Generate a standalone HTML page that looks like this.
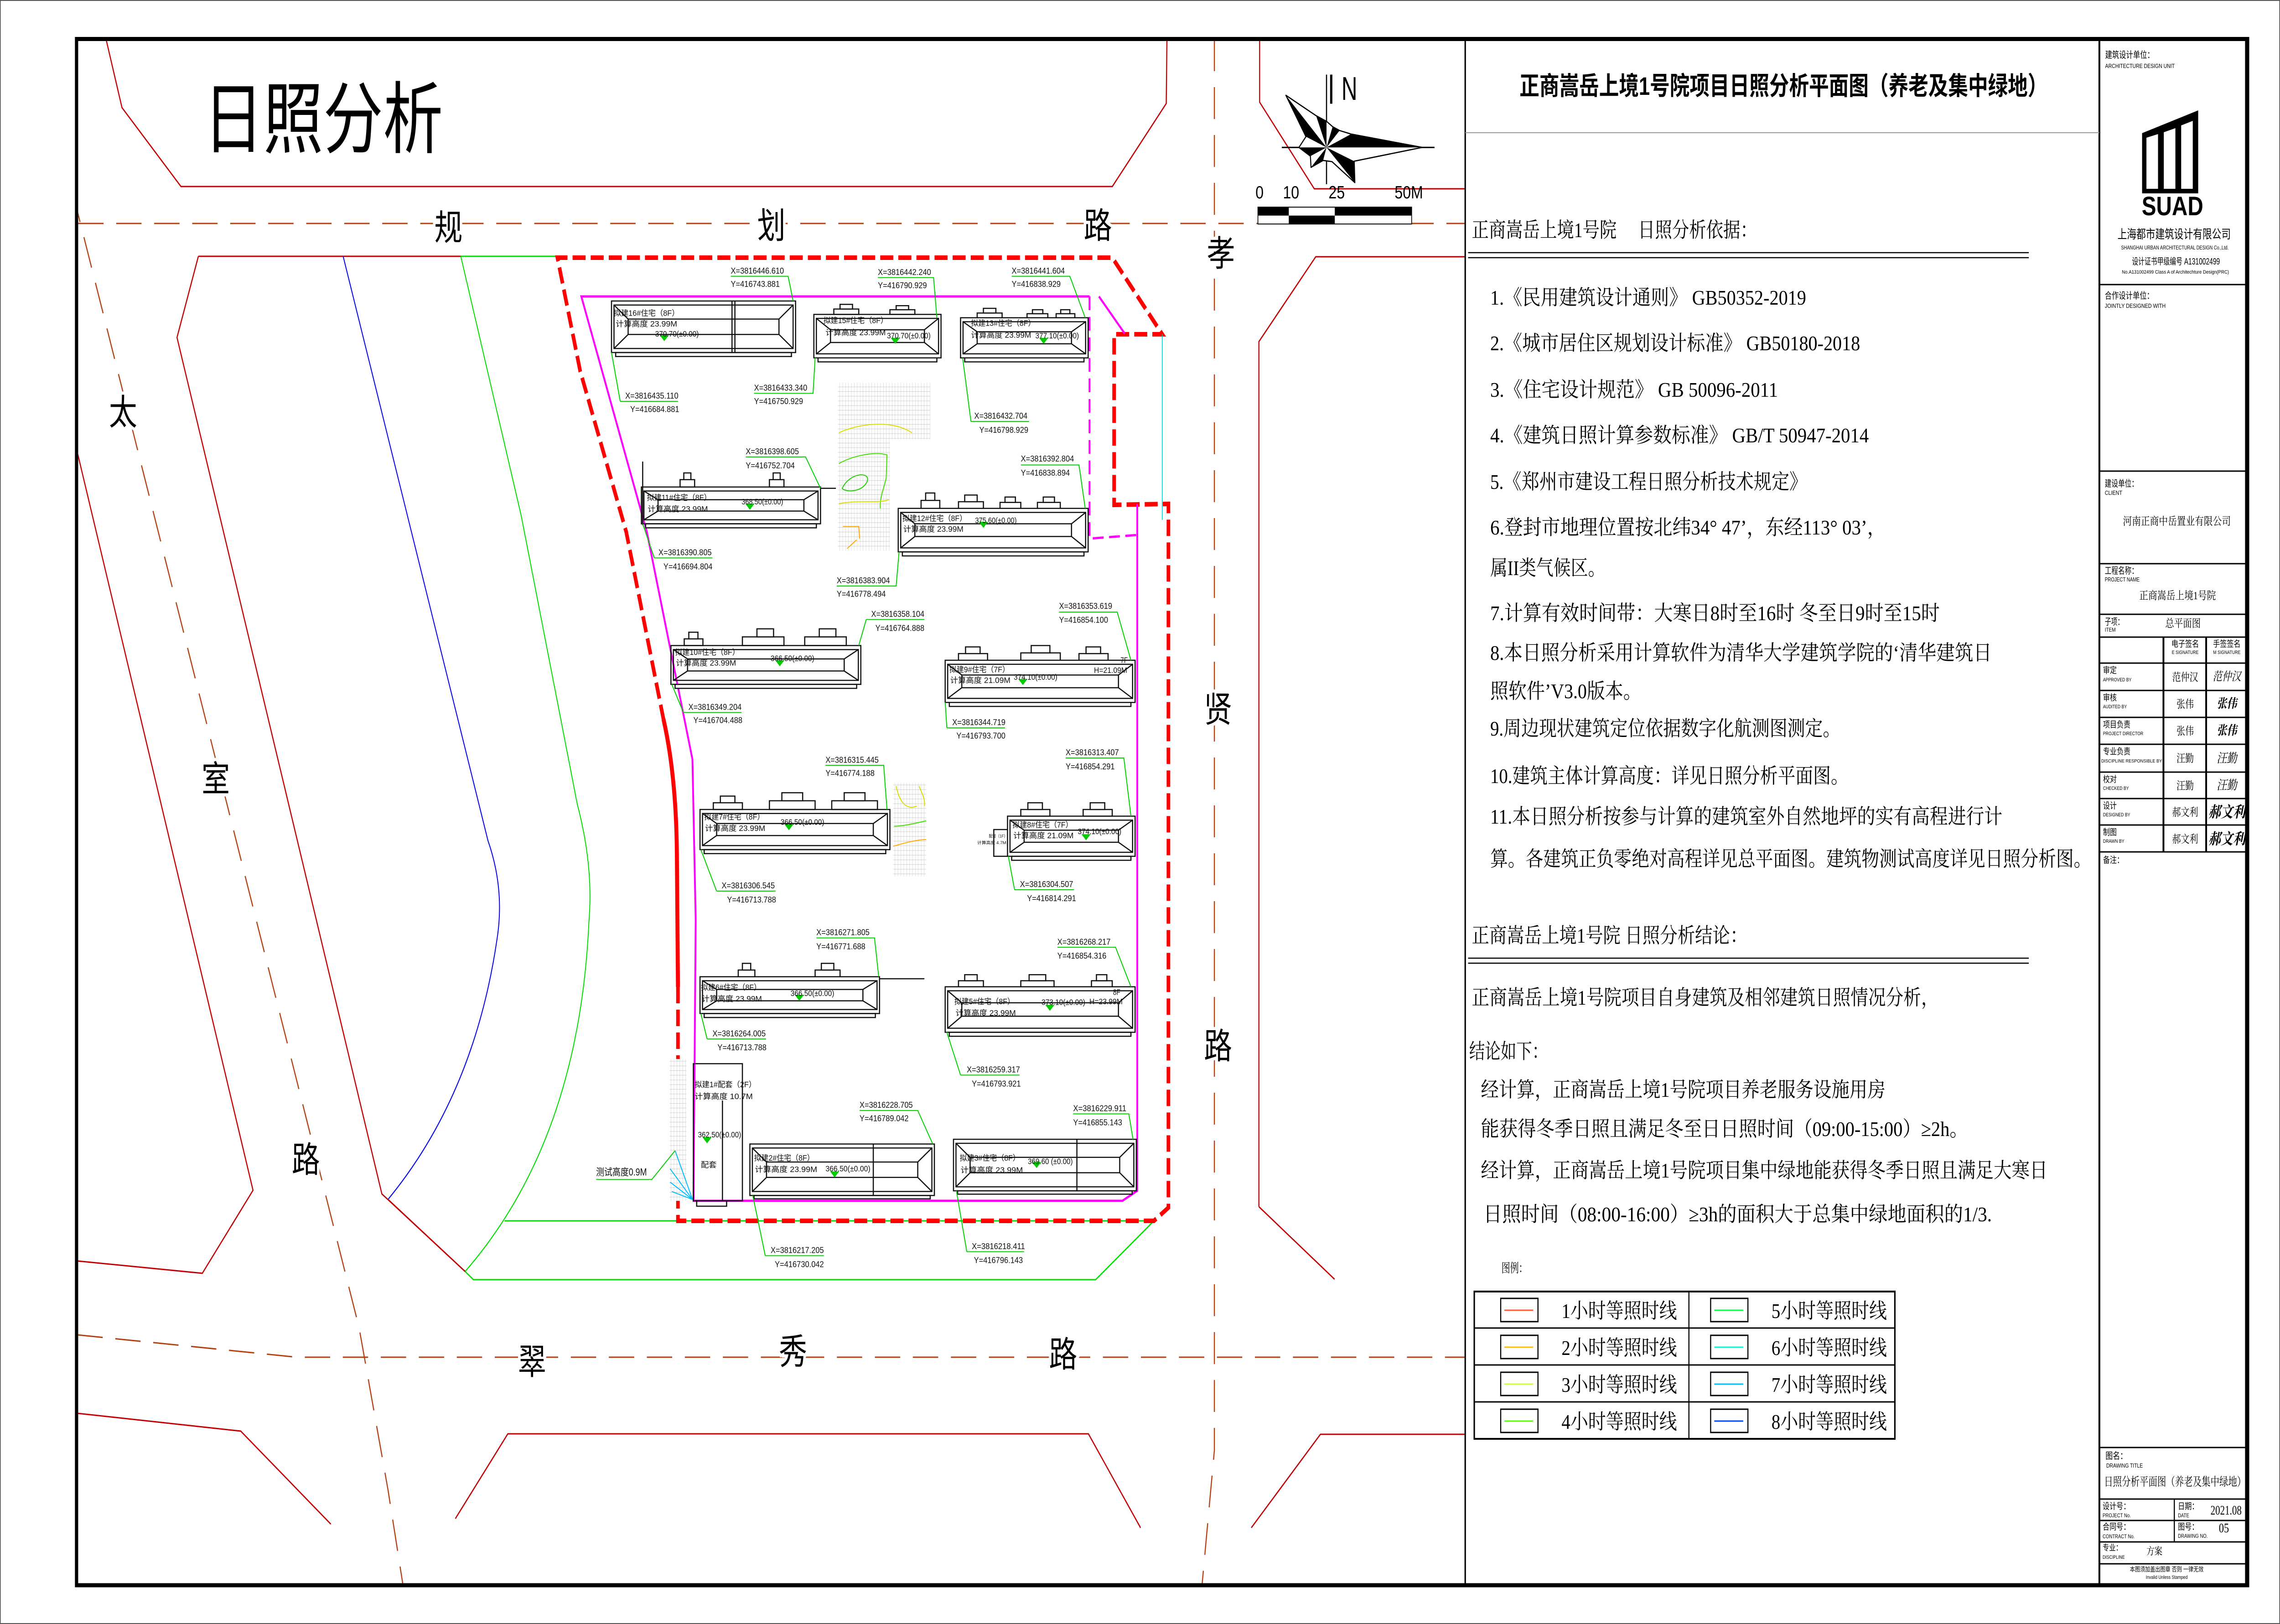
<!DOCTYPE html>
<html><head><meta charset="utf-8"><style>
html,body{margin:0;padding:0;background:#fff;width:100%;height:100%;overflow:hidden}
svg{display:block;width:100vw;height:100vh}
.sn{font-family:"Liberation Sans","Noto Sans CJK SC",sans-serif}
.sf{font-family:"Liberation Serif","Noto Serif CJK SC",serif}
.s *{vector-effect:non-scaling-stroke}
.bd rect,.bd path{fill:none;stroke:#111;stroke-width:2.5}
.bp rect{fill:#fff;stroke:#111;stroke-width:2.5}
.gl{fill:none;stroke:#00d000;stroke-width:2}
.gt{font-family:"Liberation Sans","Noto Sans CJK SC",sans-serif;font-size:16px;fill:#111}
.lt{font-family:"Liberation Sans","Noto Sans CJK SC",sans-serif;font-size:15px;fill:#111}
.tri{fill:#00cc00}
.rd{fill:none;stroke:#c00000;stroke-width:3}
.cl{fill:none;stroke:#b04010;stroke-width:3;stroke-dasharray:70 35}
.rl{font-family:"Liberation Sans","Noto Sans CJK SC",sans-serif;font-size:78px;fill:#000;stroke:#fff;stroke-width:14;paint-order:stroke;text-anchor:middle;dominant-baseline:central}
.tb{font-family:"Liberation Sans","Noto Sans CJK SC",sans-serif;fill:#000}
.ln{stroke:#000;stroke-width:3}
</style></head><body>
<svg viewBox="0 0 6299 3561" preserveAspectRatio="none" xmlns="http://www.w3.org/2000/svg">
<defs>
<clipPath id="mc"><rect x="216" y="90" width="3830" height="3382"/></clipPath>
<pattern id="hp" width="7" height="7" patternUnits="userSpaceOnUse"><rect width="7" height="7" fill="#fff"/><path d="M0,0H7M0,0V7" stroke="#c8c8c8" stroke-width="1.2"/></pattern>
</defs>
<rect x="1" y="1" width="6297" height="3559" fill="#fff" stroke="#555" stroke-width="2"/>

<g clip-path="url(#mc)">
<polyline class="rd" points="293,86 337,236 500,409 3073,409 3222,227 3224,86"/>
<polyline class="rd" points="3480,86 3480,224 3631,414 4048,414"/>
<polyline class="rd" points="548,562 1273,562"/>
<polyline class="rd" points="3478,2646 3478,749 3635,563 4048,563"/>
<polyline class="rd" points="3478,2646 3687,2805"/>
<polyline class="rd" points="548,562 489,740 1055,2618 1285,2788"/>
<polyline class="rd" points="214,993 699,2610 559,2792 214,2765"/>
<polyline class="rd" points="214,3099 665,3138 914,3342"/>
<polyline class="rd" points="1258,3330 1403,3144 3007,3144 3151,3350"/>
<polyline class="rd" points="3457,3350 3648,3145 4048,3145"/>
<polyline class="cl" points="216,490 4048,490"/>
<polyline class="cl" points="214,2927 820,2976 4048,2976"/>
<polyline class="cl" points="3355,86 3355,3180 3321,3475"/>
<polyline class="cl" points="200,420 992,2911 1072,3267 1113,3474"/>
<path d="M948,562 L1348,1843 Q1395,1950 1373,2060 Q1310,2400 1072,2630" fill="none" stroke="#0000ee" stroke-width="2.5"/>
<path d="M1273,562 L1440,1131 L1595,1764 Q1640,1900 1627,2021 Q1600,2500 1285,2788" fill="none" stroke="#00dd00" stroke-width="2.5"/>
<polyline points="1273,562 1540,562" fill="none" stroke="#00dd00" stroke-width="3"/>
<polyline points="1285,2788 1308,2806 3027,2806 3188,2677 1394,2677" fill="none" stroke="#00dd00" stroke-width="3"/>
<line x1="1285" y1="2788" x2="1072" y2="2630" class="rd"/>
<polyline points="1873,2164 1873,2677 3188,2677 3228,2648 3228,1105 3078,1107 3078,733 3211,733 3073,565 1540,565 1603,814 1730,1166 1833,1577" fill="none" stroke="#ff0000" stroke-width="10" stroke-dasharray="36 14"/>
<path d="M1833,1577 Q1868,1700 1870,1870 L1873,2164" fill="none" stroke="#ff0000" stroke-width="11"/>
<polyline points="3010,650 1606,650 1787,1166 1913,1665 1922,2017 1916,2633 3101,2633 3142,2611 3142,1105" fill="none" stroke="#ff00ff" stroke-width="5"/>
<polyline points="3036,650 3107,731" fill="none" stroke="#ff00ff" stroke-width="5"/>
<polyline points="3010,650 3010,1181 3142,1173" fill="none" stroke="#ff00ff" stroke-width="5" stroke-dasharray="30 15"/>
<line x1="3211" y1="733" x2="3211" y2="1140" stroke="#00cccc" stroke-width="2"/>

<g class="s" transform="matrix(1.148,0,0,1.467,1500,550)">
<rect x="710" y="197" width="222" height="85" fill="url(#hp)"/>
<rect x="710" y="282" width="125" height="166" fill="url(#hp)"/>
<rect x="843" y="795" width="79" height="140" fill="url(#hp)"/>
<rect x="305" y="1208" width="40" height="212" fill="url(#hp)"/>
<g fill="none" stroke-width="2">
<path d="M712,272 C760,258 840,252 888,272" stroke="#dddd00"/>
<path d="M712,318 C750,305 800,300 828,305 L826,340 C818,360 810,370 812,385" stroke="#44dd00"/>
<path d="M720,355 C740,330 790,330 780,345 C770,360 730,362 720,355Z" stroke="#22cc00"/>
<path d="M712,378 C760,372 810,378 832,372" stroke="#dddd00"/>
<path d="M722,412 L760,412 L762,430 M732,445 L755,432" stroke="#ffaa00"/>
<path d="M850,800 C860,830 880,835 900,830 M905,800 C915,815 920,820 918,830" stroke="#dddd00"/>
<path d="M845,860 C870,860 900,855 922,852" stroke="#44dd00"/>
<path d="M843,890 C870,885 900,880 922,880" stroke="#ffaa00"/>
<path d="M360,1418 L318,1345 M360,1418 L306,1372 M360,1418 L306,1392 M360,1418 L310,1406" stroke="#00bbff"/>
</g>
<g class="bp">
<rect x="700" y="87" width="60" height="8"/><rect x="715" y="80" width="30" height="7"/>
<rect x="835" y="88" width="60" height="7"/><rect x="850" y="82" width="30" height="6"/>
<rect x="1045" y="93" width="60" height="7"/><rect x="1060" y="86" width="30" height="7"/>
<rect x="1165" y="94" width="50" height="6"/><rect x="1178" y="88" width="25" height="6"/>
<rect x="1235" y="94" width="45" height="6"/><rect x="1246" y="88" width="22" height="6"/>
<rect x="330" y="342" width="35" height="11"/><rect x="339" y="332" width="17" height="10"/>
<rect x="545" y="342" width="35" height="11"/><rect x="554" y="332" width="17" height="10"/>
<rect x="910" y="373" width="45" height="12"/><rect x="921" y="362" width="22" height="11"/>
<rect x="1000" y="375" width="60" height="10"/><rect x="1015" y="365" width="30" height="10"/>
<rect x="1100" y="376" width="50" height="9"/><rect x="1112" y="368" width="25" height="8"/>
<rect x="1190" y="376" width="55" height="9"/><rect x="1204" y="368" width="27" height="8"/>
<rect x="340" y="580" width="45" height="10"/><rect x="351" y="570" width="22" height="10"/>
<rect x="480" y="577" width="100" height="13"/><rect x="515" y="565" width="40" height="12"/>
<rect x="630" y="577" width="100" height="13"/><rect x="665" y="565" width="40" height="12"/>
<rect x="1000" y="602" width="70" height="10"/><rect x="1017" y="592" width="35" height="10"/>
<rect x="1150" y="601" width="95" height="11"/><rect x="1175" y="590" width="45" height="11"/>
<rect x="1290" y="602" width="70" height="10"/><rect x="1307" y="592" width="35" height="10"/>
<rect x="410" y="825" width="70" height="10"/><rect x="427" y="815" width="35" height="10"/>
<rect x="545" y="822" width="110" height="13"/><rect x="575" y="810" width="50" height="12"/>
<rect x="695" y="822" width="110" height="13"/><rect x="725" y="810" width="50" height="12"/>
<rect x="1150" y="835" width="70" height="10"/><rect x="1167" y="825" width="35" height="10"/>
<rect x="1300" y="835" width="70" height="10"/><rect x="1317" y="825" width="35" height="10"/>
<rect x="470" y="1075" width="40" height="10"/><rect x="480" y="1065" width="20" height="10"/>
<rect x="655" y="1075" width="60" height="10"/><rect x="670" y="1065" width="30" height="10"/>
<rect x="1000" y="1091" width="60" height="9"/><rect x="1015" y="1082" width="30" height="9"/>
<rect x="1150" y="1091" width="80" height="9"/><rect x="1170" y="1082" width="40" height="9"/>
<rect x="1320" y="1091" width="50" height="9"/><rect x="1332" y="1082" width="25" height="9"/>
<rect x="175" y="152" width="423" height="6"/><rect x="662" y="160" width="286" height="6"/>
<rect x="1015" y="160" width="287" height="6"/><rect x="247" y="408" width="411" height="6"/>
<rect x="865" y="450" width="437" height="6"/><rect x="318" y="648" width="437" height="6"/>
<rect x="978" y="675" width="437" height="6"/><rect x="388" y="895" width="437" height="6"/>
<rect x="1128" y="905" width="287" height="6"/><rect x="388" y="1140" width="412" height="6"/>
<rect x="978" y="1168" width="437" height="6"/><rect x="508" y="1412" width="424" height="5"/>
<rect x="998" y="1405" width="420" height="5"/>
</g>
<g class="bd">
<rect x="165" y="75" width="443" height="77"/><rect x="171" y="81" width="431" height="65"/>
<path d="M171,81 L205,102 L568,102 L602,81 M171,146 L205,125 L568,125 L602,146 M205,102V125 M568,102V125 M455,75V152 M462,75V152"/>
<rect x="652" y="95" width="306" height="65"/><rect x="658" y="101" width="294" height="53"/>
<path d="M658,101 L692,118 L918,118 L952,101 M658,154 L692,137 L918,137 L952,154 M692,118V137 M918,118V137"/>
<rect x="1005" y="100" width="307" height="60"/><rect x="1011" y="106" width="295" height="48"/>
<path d="M1011,106 L1045,121 L1272,121 L1306,106 M1011,154 L1045,139 L1272,139 L1306,154 M1045,121V139 M1272,121V139"/>
<rect x="237" y="353" width="431" height="55"/><rect x="243" y="359" width="419" height="43"/>
<path d="M243,359 L277,372 L628,372 L662,359 M243,402 L277,389 L628,389 L662,402 M277,372V389 M628,372V389 M240,315V410 M668,355H705"/>
<rect x="855" y="385" width="457" height="65"/><rect x="861" y="391" width="445" height="53"/>
<path d="M861,391 L895,408 L1272,408 L1306,391 M861,444 L895,427 L1272,427 L1306,444 M895,408V427 M1272,408V427"/>
<rect x="308" y="590" width="457" height="58"/><rect x="314" y="596" width="445" height="46"/>
<path d="M314,596 L348,610 L725,610 L759,596 M314,642 L348,628 L725,628 L759,642 M348,610V628 M725,610V628"/>
<rect x="968" y="612" width="457" height="63"/><rect x="974" y="618" width="445" height="51"/>
<path d="M974,618 L1008,634 L1385,634 L1419,618 M974,669 L1008,653 L1385,653 L1419,669 M1008,634V653 M1385,634V653"/>
<rect x="378" y="835" width="457" height="60"/><rect x="384" y="841" width="445" height="48"/>
<path d="M384,841 L418,856 L795,856 L829,841 M384,889 L418,874 L795,874 L829,889 M418,856V874 M795,856V874"/>
<rect x="1118" y="845" width="307" height="60"/><rect x="1124" y="851" width="295" height="48"/>
<path d="M1124,851 L1158,866 L1385,866 L1419,851 M1124,899 L1158,884 L1385,884 L1419,899 M1158,866V884 M1385,866V884 M1118,865H1085V905H1118"/>
<rect x="378" y="1085" width="432" height="55"/><rect x="384" y="1091" width="420" height="43"/>
<path d="M384,1091 L418,1104 L770,1104 L804,1091 M384,1134 L418,1121 L770,1121 L804,1134 M418,1104V1121 M770,1104V1121 M810,1088H918"/>
<rect x="968" y="1100" width="457" height="68"/><rect x="974" y="1106" width="445" height="56"/>
<path d="M974,1106 L1008,1124 L1385,1124 L1419,1106 M974,1162 L1008,1144 L1385,1144 L1419,1162 M1008,1124V1144 M1385,1124V1144"/>
<rect x="498" y="1335" width="444" height="77"/><rect x="504" y="1341" width="432" height="65"/>
<path d="M504,1341 L538,1362 L902,1362 L936,1341 M504,1406 L538,1385 L902,1385 L936,1406 M538,1362V1385 M902,1362V1385 M795,1335V1412"/>
<rect x="988" y="1328" width="440" height="77"/><rect x="994" y="1334" width="428" height="65"/>
<path d="M994,1334 L1028,1355 L1388,1355 L1422,1334 M994,1399 L1028,1378 L1388,1378 L1422,1399 M1028,1355V1378 M1388,1355V1378 M1285,1328V1405"/>
<rect x="362" y="1215" width="118" height="205"/>
<path d="M432,1270V1420 M370,1420V1428H442V1420"/>
</g>
<g class="tri">
<polygon points="281,126 303,126 292,135"/><polygon points="837,130 859,130 848,139"/>
<polygon points="1194,130 1216,130 1205,139"/><polygon points="487,378 509,378 498,387"/>
<polygon points="1049,405 1071,405 1060,414"/><polygon points="559,612 581,612 570,621"/>
<polygon points="1144,640 1166,640 1155,649"/><polygon points="581,857 603,857 592,866"/>
<polygon points="1296,872 1318,872 1307,881"/><polygon points="606,1112 628,1112 617,1121"/>
<polygon points="1209,1127 1231,1127 1220,1136"/><polygon points="691,1376 713,1376 702,1385"/>
<polygon points="1177,1362 1199,1362 1188,1371"/><polygon points="384,1325 406,1325 395,1334"/>
</g>
<g class="lt">
<text transform="translate(170,97) scale(1,.7826)" textLength="158" lengthAdjust="spacingAndGlyphs">拟建16#住宅（8F）</text>
<text transform="translate(175,113) scale(1,.7826)" textLength="148" lengthAdjust="spacingAndGlyphs">计算高度  23.99M</text>
<text transform="translate(270,128) scale(1,.7826)" textLength="105" lengthAdjust="spacingAndGlyphs">370.70(±0.00)</text>
<text transform="translate(675,108) scale(1,.7826)" textLength="155" lengthAdjust="spacingAndGlyphs">拟建15#住宅（8F）</text>
<text transform="translate(680,126) scale(1,.7826)" textLength="145" lengthAdjust="spacingAndGlyphs">计算高度  23.99M</text>
<text transform="translate(828,131) scale(1,.7826)" textLength="105" lengthAdjust="spacingAndGlyphs">370.70(±0.00)</text>
<text transform="translate(1030,112) scale(1,.7826)" textLength="155" lengthAdjust="spacingAndGlyphs">拟建13#住宅（8F）</text>
<text transform="translate(1030,130) scale(1,.7826)" textLength="145" lengthAdjust="spacingAndGlyphs">计算高度  23.99M</text>
<text transform="translate(1185,131) scale(1,.7826)" textLength="105" lengthAdjust="spacingAndGlyphs">377.10(±0.00)</text>
<text transform="translate(250,373) scale(1,.7826)" textLength="155" lengthAdjust="spacingAndGlyphs">拟建11#住宅（8F）</text>
<text transform="translate(252,390) scale(1,.7826)" textLength="145" lengthAdjust="spacingAndGlyphs">计算高度  23.99M</text>
<text transform="translate(478,379) scale(1,.7826)" textLength="100" lengthAdjust="spacingAndGlyphs">368.50(±0.00)</text>
<text transform="translate(865,404) scale(1,.7826)" textLength="155" lengthAdjust="spacingAndGlyphs">拟建12#住宅（8F）</text>
<text transform="translate(867,420) scale(1,.7826)" textLength="145" lengthAdjust="spacingAndGlyphs">计算高度  23.99M</text>
<text transform="translate(1040,407) scale(1,.7826)" textLength="100" lengthAdjust="spacingAndGlyphs">375.60(±0.00)</text>
<text transform="translate(318,604) scale(1,.7826)" textLength="155" lengthAdjust="spacingAndGlyphs">拟建10#住宅（8F）</text>
<text transform="translate(320,620) scale(1,.7826)" textLength="145" lengthAdjust="spacingAndGlyphs">计算高度  23.99M</text>
<text transform="translate(548,613) scale(1,.7826)" textLength="105" lengthAdjust="spacingAndGlyphs">366.50(±0.00)</text>
<text transform="translate(978,630) scale(1,.7826)" textLength="145" lengthAdjust="spacingAndGlyphs">拟建9#住宅（7F）</text>
<text transform="translate(980,646) scale(1,.7826)" textLength="145" lengthAdjust="spacingAndGlyphs">计算高度  21.09M</text>
<text transform="translate(1133,641) scale(1,.7826)" textLength="105" lengthAdjust="spacingAndGlyphs">374.10(±0.00)</text>
<text transform="translate(1326,631) scale(1,.7826)" textLength="80" lengthAdjust="spacingAndGlyphs">H=21.09M</text>
<text transform="translate(1390,616) scale(1,.7826)">7F</text>
<text transform="translate(388,850) scale(1,.7826)" textLength="145" lengthAdjust="spacingAndGlyphs">拟建7#住宅（8F）</text>
<text transform="translate(390,867) scale(1,.7826)" textLength="145" lengthAdjust="spacingAndGlyphs">计算高度  23.99M</text>
<text transform="translate(572,858) scale(1,.7826)" textLength="105" lengthAdjust="spacingAndGlyphs">366.50(±0.00)</text>
<text transform="translate(1130,862) scale(1,.7826)" textLength="145" lengthAdjust="spacingAndGlyphs">拟建8#住宅（7F）</text>
<text transform="translate(1132,878) scale(1,.7826)" textLength="145" lengthAdjust="spacingAndGlyphs">计算高度  21.09M</text>
<text transform="translate(1287,872) scale(1,.7826)" textLength="105" lengthAdjust="spacingAndGlyphs">374.10(±0.00)</text>
<text transform="translate(1073,877) scale(1,.7826)" font-size="8" textLength="45" lengthAdjust="spacingAndGlyphs">配套（1F）</text>
<text transform="translate(1045,887) scale(1,.7826)" font-size="8" textLength="70" lengthAdjust="spacingAndGlyphs">计算高度 4.7M</text>
<text transform="translate(380,1105) scale(1,.7826)" textLength="145" lengthAdjust="spacingAndGlyphs">拟建6#住宅（8F）</text>
<text transform="translate(382,1122) scale(1,.7826)" textLength="145" lengthAdjust="spacingAndGlyphs">计算高度  23.99M</text>
<text transform="translate(596,1114) scale(1,.7826)" textLength="105" lengthAdjust="spacingAndGlyphs">366.50(±0.00)</text>
<text transform="translate(990,1126) scale(1,.7826)" textLength="145" lengthAdjust="spacingAndGlyphs">拟建5#住宅（8F）</text>
<text transform="translate(993,1143) scale(1,.7826)" textLength="145" lengthAdjust="spacingAndGlyphs">计算高度  23.99M</text>
<text transform="translate(1200,1127) scale(1,.7826)" textLength="105" lengthAdjust="spacingAndGlyphs">373.10(±0.00)</text>
<text transform="translate(1315,1126) scale(1,.7826)" textLength="80" lengthAdjust="spacingAndGlyphs">H=23.99M</text>
<text transform="translate(1372,1112) scale(1,.7826)">8F</text>
<text transform="translate(508,1360) scale(1,.7826)" textLength="145" lengthAdjust="spacingAndGlyphs">拟建2#住宅（8F）</text>
<text transform="translate(510,1377) scale(1,.7826)" textLength="150" lengthAdjust="spacingAndGlyphs">计算高度  23.99M</text>
<text transform="translate(680,1376) scale(1,.7826)" textLength="108" lengthAdjust="spacingAndGlyphs">366.50(±0.00)</text>
<text transform="translate(1003,1360) scale(1,.7826)" textLength="145" lengthAdjust="spacingAndGlyphs">拟建3#住宅（8F）</text>
<text transform="translate(1005,1378) scale(1,.7826)" textLength="150" lengthAdjust="spacingAndGlyphs">计算高度  23.99M</text>
<text transform="translate(1167,1365) scale(1,.7826)" textLength="108" lengthAdjust="spacingAndGlyphs">369.60 (±0.00)</text>
<text transform="translate(365,1250) scale(1,.7826)" textLength="148" lengthAdjust="spacingAndGlyphs">拟建1#配套（2F）</text>
<text transform="translate(365,1268) scale(1,.7826)" textLength="140" lengthAdjust="spacingAndGlyphs">计算高度  10.7M</text>
<text transform="translate(373,1325) scale(1,.7826)" textLength="104" lengthAdjust="spacingAndGlyphs">362.50(±0.00)</text>
<text transform="translate(380,1370) scale(1,.7826)" textLength="38" lengthAdjust="spacingAndGlyphs">配套</text>
<text transform="translate(128,1382) scale(1,.7826)" font-size="19" textLength="122" lengthAdjust="spacingAndGlyphs">测试高度0.9M</text>
</g>
<polyline class="gl" points="128,1388 262,1388 318,1345"/>
<g class="gl">
<polyline points="452,38 590,38 602,75"/><polyline points="186,225 325,225"/><polyline points="186,225 165,152"/>
<polyline points="806,40 940,40 948,100"/><polyline points="508,213 650,213 655,160"/>
<polyline points="1128,38 1268,38 1305,100"/><polyline points="1030,255 1170,255"/><polyline points="1030,255 1010,160"/>
<polyline points="488,308 632,308 668,355"/><polyline points="268,459 408,459"/><polyline points="268,459 240,408"/>
<polyline points="1150,320 1290,320 1305,385"/><polyline points="707,501 850,501 857,450"/>
<polyline points="778,551 918,551"/><polyline points="778,551 760,590"/><polyline points="338,690 478,690"/><polyline points="338,690 310,648"/>
<polyline points="1242,540 1382,540 1415,612"/><polyline points="972,713 1112,713"/><polyline points="972,713 968,675"/>
<polyline points="680,769 820,769 828,835"/><polyline points="418,957 560,957"/><polyline points="418,957 380,895"/>
<polyline points="1258,758 1398,758 1415,845"/><polyline points="1135,955 1278,955"/><polyline points="1135,955 1120,905"/>
<polyline points="658,1027 798,1027 808,1085"/><polyline points="395,1178 537,1178"/><polyline points="395,1178 380,1140"/>
<polyline points="1238,1041 1378,1041 1415,1100"/><polyline points="1005,1232 1147,1232"/><polyline points="1005,1232 972,1168"/>
<polyline points="762,1285 902,1285 938,1335"/><polyline points="535,1502 676,1502"/><polyline points="535,1502 505,1412"/>
<polyline points="1276,1290 1410,1290 1420,1328"/><polyline points="1020,1496 1158,1496"/><polyline points="1020,1496 995,1405"/>
</g>
<g class="gt">
<text transform="translate(452,34) scale(1,.7826)" textLength="128" lengthAdjust="spacingAndGlyphs">X=3816446.610</text>
<text transform="translate(452,54) scale(1,.7826)" textLength="118" lengthAdjust="spacingAndGlyphs">Y=416743.881</text>
<text transform="translate(198,221) scale(1,.7826)" textLength="128" lengthAdjust="spacingAndGlyphs">X=3816435.110</text>
<text transform="translate(210,241) scale(1,.7826)" textLength="118" lengthAdjust="spacingAndGlyphs">Y=416684.881</text>
<text transform="translate(806,36) scale(1,.7826)" textLength="128" lengthAdjust="spacingAndGlyphs">X=3816442.240</text>
<text transform="translate(806,56) scale(1,.7826)" textLength="118" lengthAdjust="spacingAndGlyphs">Y=416790.929</text>
<text transform="translate(508,209) scale(1,.7826)" textLength="128" lengthAdjust="spacingAndGlyphs">X=3816433.340</text>
<text transform="translate(508,229) scale(1,.7826)" textLength="118" lengthAdjust="spacingAndGlyphs">Y=416750.929</text>
<text transform="translate(1128,34) scale(1,.7826)" textLength="128" lengthAdjust="spacingAndGlyphs">X=3816441.604</text>
<text transform="translate(1128,54) scale(1,.7826)" textLength="118" lengthAdjust="spacingAndGlyphs">Y=416838.929</text>
<text transform="translate(1038,251) scale(1,.7826)" textLength="128" lengthAdjust="spacingAndGlyphs">X=3816432.704</text>
<text transform="translate(1050,272) scale(1,.7826)" textLength="118" lengthAdjust="spacingAndGlyphs">Y=416798.929</text>
<text transform="translate(488,304) scale(1,.7826)" textLength="128" lengthAdjust="spacingAndGlyphs">X=3816398.605</text>
<text transform="translate(488,325) scale(1,.7826)" textLength="118" lengthAdjust="spacingAndGlyphs">Y=416752.704</text>
<text transform="translate(278,455) scale(1,.7826)" textLength="128" lengthAdjust="spacingAndGlyphs">X=3816390.805</text>
<text transform="translate(290,476) scale(1,.7826)" textLength="118" lengthAdjust="spacingAndGlyphs">Y=416694.804</text>
<text transform="translate(1150,315) scale(1,.7826)" textLength="128" lengthAdjust="spacingAndGlyphs">X=3816392.804</text>
<text transform="translate(1150,336) scale(1,.7826)" textLength="118" lengthAdjust="spacingAndGlyphs">Y=416838.894</text>
<text transform="translate(707,497) scale(1,.7826)" textLength="128" lengthAdjust="spacingAndGlyphs">X=3816383.904</text>
<text transform="translate(707,517) scale(1,.7826)" textLength="118" lengthAdjust="spacingAndGlyphs">Y=416778.494</text>
<text transform="translate(790,547) scale(1,.7826)" textLength="128" lengthAdjust="spacingAndGlyphs">X=3816358.104</text>
<text transform="translate(800,568) scale(1,.7826)" textLength="118" lengthAdjust="spacingAndGlyphs">Y=416764.888</text>
<text transform="translate(350,686) scale(1,.7826)" textLength="128" lengthAdjust="spacingAndGlyphs">X=3816349.204</text>
<text transform="translate(362,706) scale(1,.7826)" textLength="118" lengthAdjust="spacingAndGlyphs">Y=416704.488</text>
<text transform="translate(1242,535) scale(1,.7826)" textLength="128" lengthAdjust="spacingAndGlyphs">X=3816353.619</text>
<text transform="translate(1242,556) scale(1,.7826)" textLength="118" lengthAdjust="spacingAndGlyphs">Y=416854.100</text>
<text transform="translate(985,709) scale(1,.7826)" textLength="128" lengthAdjust="spacingAndGlyphs">X=3816344.719</text>
<text transform="translate(995,729) scale(1,.7826)" textLength="118" lengthAdjust="spacingAndGlyphs">Y=416793.700</text>
<text transform="translate(680,765) scale(1,.7826)" textLength="128" lengthAdjust="spacingAndGlyphs">X=3816315.445</text>
<text transform="translate(680,785) scale(1,.7826)" textLength="118" lengthAdjust="spacingAndGlyphs">Y=416774.188</text>
<text transform="translate(430,953) scale(1,.7826)" textLength="128" lengthAdjust="spacingAndGlyphs">X=3816306.545</text>
<text transform="translate(443,974) scale(1,.7826)" textLength="118" lengthAdjust="spacingAndGlyphs">Y=416713.788</text>
<text transform="translate(1258,754) scale(1,.7826)" textLength="128" lengthAdjust="spacingAndGlyphs">X=3816313.407</text>
<text transform="translate(1258,775) scale(1,.7826)" textLength="118" lengthAdjust="spacingAndGlyphs">Y=416854.291</text>
<text transform="translate(1148,951) scale(1,.7826)" textLength="128" lengthAdjust="spacingAndGlyphs">X=3816304.507</text>
<text transform="translate(1165,972) scale(1,.7826)" textLength="118" lengthAdjust="spacingAndGlyphs">Y=416814.291</text>
<text transform="translate(658,1023) scale(1,.7826)" textLength="128" lengthAdjust="spacingAndGlyphs">X=3816271.805</text>
<text transform="translate(658,1044) scale(1,.7826)" textLength="118" lengthAdjust="spacingAndGlyphs">Y=416771.688</text>
<text transform="translate(408,1174) scale(1,.7826)" textLength="128" lengthAdjust="spacingAndGlyphs">X=3816264.005</text>
<text transform="translate(420,1195) scale(1,.7826)" textLength="118" lengthAdjust="spacingAndGlyphs">Y=416713.788</text>
<text transform="translate(1238,1037) scale(1,.7826)" textLength="128" lengthAdjust="spacingAndGlyphs">X=3816268.217</text>
<text transform="translate(1238,1058) scale(1,.7826)" textLength="118" lengthAdjust="spacingAndGlyphs">Y=416854.316</text>
<text transform="translate(1020,1228) scale(1,.7826)" textLength="128" lengthAdjust="spacingAndGlyphs">X=3816259.317</text>
<text transform="translate(1032,1249) scale(1,.7826)" textLength="118" lengthAdjust="spacingAndGlyphs">Y=416793.921</text>
<text transform="translate(762,1281) scale(1,.7826)" textLength="128" lengthAdjust="spacingAndGlyphs">X=3816228.705</text>
<text transform="translate(762,1301) scale(1,.7826)" textLength="118" lengthAdjust="spacingAndGlyphs">Y=416789.042</text>
<text transform="translate(548,1498) scale(1,.7826)" textLength="128" lengthAdjust="spacingAndGlyphs">X=3816217.205</text>
<text transform="translate(558,1519) scale(1,.7826)" textLength="118" lengthAdjust="spacingAndGlyphs">Y=416730.042</text>
<text transform="translate(1276,1286) scale(1,.7826)" textLength="128" lengthAdjust="spacingAndGlyphs">X=3816229.911</text>
<text transform="translate(1276,1307) scale(1,.7826)" textLength="118" lengthAdjust="spacingAndGlyphs">Y=416855.143</text>
<text transform="translate(1032,1492) scale(1,.7826)" textLength="128" lengthAdjust="spacingAndGlyphs">X=3816218.411</text>
<text transform="translate(1037,1513) scale(1,.7826)" textLength="118" lengthAdjust="spacingAndGlyphs">Y=416796.143</text>
</g>
</g>

<text class="rl" x="1239" y="499">规</text>
<text class="rl" x="2131" y="495">划</text>
<text class="rl" x="3033" y="495">路</text>
<text class="rl" x="3373" y="556">孝</text>
<text class="rl" x="3365" y="1556">贤</text>
<text class="rl" x="3365" y="2294">路</text>
<text class="rl" x="340" y="904">太</text>
<text class="rl" x="596" y="1708">室</text>
<text class="rl" x="845" y="2543">路</text>
<text class="rl" x="1470" y="2986">翠</text>
<text class="rl" x="2191" y="2964">秀</text>
<text class="rl" x="2937" y="2970">路</text>

<g transform="translate(3450,130) scale(0.351,0.336)">
<line x1="612" y1="100" x2="612" y2="815" stroke="#000" stroke-width="9"/>
<rect x="640" y="100" width="18" height="190" fill="#000"/>
<text x="730" y="265" font-family="Liberation Sans,sans-serif" font-size="215" fill="#000" transform="translate(730,265) scale(0.8,1) translate(-730,-265)">N</text>
<line x1="260" y1="575" x2="1462" y2="575" stroke="#000" stroke-width="9"/>
<polygon points="292,235 530,368 612,405 660,440 715,465 805,488 1365,575 830,665 835,805 655,668 585,660 490,705 485,632 395,575 450,505" fill="#fff" stroke="#000" stroke-width="8" stroke-linejoin="round"/>
<g fill="#000">
<polygon points="612,575 292,235 450,505"/><polygon points="612,575 530,368 612,405"/>
<polygon points="612,575 660,440 715,465"/><polygon points="612,575 805,488 1365,575"/>
<polygon points="612,575 830,665 835,805"/><polygon points="612,575 585,660 490,705"/>
<polygon points="612,575 485,632 395,575"/>
</g>
<g font-family="Liberation Sans,sans-serif" font-size="115" fill="#000" text-anchor="middle">
<text x="85" y="908">0</text><text x="333" y="908">10</text><text x="692" y="908">25</text><text x="1260" y="908">50M</text>
</g>
<rect x="72" y="965" width="1210" height="110" fill="#fff" stroke="#000" stroke-width="6"/>
<rect x="72" y="965" width="243" height="55" fill="#000"/><rect x="677" y="965" width="605" height="55" fill="#000"/>
<rect x="315" y="1020" width="362" height="55" fill="#000"/>
</g>
</g>

<text x="562" y="322" class="sn" font-size="172" textLength="662" lengthAdjust="spacingAndGlyphs" fill="#000">日照分析</text>

<rect x="211.5" y="85.5" width="5998" height="3390.5" fill="none" stroke="#000" stroke-width="9"/>
<line x1="4048" y1="86" x2="4048" y2="3476" stroke="#000" stroke-width="4"/>
<line x1="5800" y1="86" x2="5800" y2="3476" stroke="#000" stroke-width="5"/>
<line x1="4048" y1="291" x2="5800" y2="291" stroke="#999" stroke-width="2"/>
<line x1="6208" y1="86" x2="6208" y2="3476" stroke="#000" stroke-width="11"/>

<text x="4198" y="208" font-family="'Liberation Sans','Noto Sans CJK SC',sans-serif" font-weight="bold" font-size="56" textLength="1459" lengthAdjust="spacingAndGlyphs" fill="#000">正商嵩岳上境1号院项目日照分析平面图（养老及集中绿地）</text>
<g class="sf" font-size="46" fill="#000">
<text x="4066" y="520" textLength="789" lengthAdjust="spacingAndGlyphs">正商嵩岳上境1号院　  日照分析依据：</text>
<text x="4117" y="668" textLength="873" lengthAdjust="spacingAndGlyphs">1.《民用建筑设计通则》  GB50352-2019</text>
<text x="4117" y="768" textLength="1022" lengthAdjust="spacingAndGlyphs">2.《城市居住区规划设计标准》  GB50180-2018</text>
<text x="4117" y="870" textLength="795" lengthAdjust="spacingAndGlyphs">3.《住宅设计规范》  GB 50096-2011</text>
<text x="4117" y="970" textLength="1046" lengthAdjust="spacingAndGlyphs">4.《建筑日照计算参数标准》  GB/T 50947-2014</text>
<text x="4117" y="1072" textLength="876" lengthAdjust="spacingAndGlyphs">5.《郑州市建设工程日照分析技术规定》</text>
<text x="4117" y="1172" textLength="1093" lengthAdjust="spacingAndGlyphs">6.登封市地理位置按北纬34° 47’，东经113° 03’，</text>
<text x="4117" y="1261" textLength="318" lengthAdjust="spacingAndGlyphs">属II类气候区。</text>
<text x="4117" y="1360" textLength="1242" lengthAdjust="spacingAndGlyphs">7.计算有效时间带：大寒日8时至16时    冬至日9时至15时</text>
<text x="4117" y="1447" textLength="1386" lengthAdjust="spacingAndGlyphs">8.本日照分析采用计算软件为清华大学建筑学院的‘清华建筑日</text>
<text x="4117" y="1531" textLength="418" lengthAdjust="spacingAndGlyphs">照软件’V3.0版本。</text>
<text x="4117" y="1613" textLength="968" lengthAdjust="spacingAndGlyphs">9.周边现状建筑定位依据数字化航测图测定。</text>
<text x="4117" y="1717" textLength="990" lengthAdjust="spacingAndGlyphs">10.建筑主体计算高度：详见日照分析平面图。</text>
<text x="4117" y="1806" textLength="1415" lengthAdjust="spacingAndGlyphs">11.本日照分析按参与计算的建筑室外自然地坪的实有高程进行计</text>
<text x="4117" y="1899" textLength="1661" lengthAdjust="spacingAndGlyphs">算。各建筑正负零绝对高程详见总平面图。建筑物测试高度详见日照分析图。</text>
<text x="4066" y="2067" textLength="762" lengthAdjust="spacingAndGlyphs">正商嵩岳上境1号院  日照分析结论：</text>
<text x="4066" y="2203" textLength="1290" lengthAdjust="spacingAndGlyphs">正商嵩岳上境1号院项目自身建筑及相邻建筑日照情况分析，</text>
<text x="4059" y="2321" textLength="217" lengthAdjust="spacingAndGlyphs">结论如下：</text>
<text x="4091" y="2405" textLength="1118" lengthAdjust="spacingAndGlyphs">经计算，正商嵩岳上境1号院项目养老服务设施用房</text>
<text x="4091" y="2491" textLength="1346" lengthAdjust="spacingAndGlyphs">能获得冬季日照且满足冬至日日照时间（09:00-15:00）≥2h。</text>
<text x="4091" y="2582" textLength="1566" lengthAdjust="spacingAndGlyphs">经计算，正商嵩岳上境1号院项目集中绿地能获得冬季日照且满足大寒日</text>
<text x="4098" y="2678" textLength="1405" lengthAdjust="spacingAndGlyphs">日照时间（08:00-16:00）≥3h的面积大于总集中绿地面积的1/3.</text>
</g>
<g stroke="#000" stroke-width="2.5">
<line x1="4056" y1="554" x2="5605" y2="554"/><line x1="4056" y1="565" x2="5605" y2="565"/>
<line x1="4056" y1="2101" x2="5605" y2="2101"/><line x1="4056" y1="2112" x2="5605" y2="2112"/>
</g>
<text x="4148" y="2790" class="sf" font-size="28" textLength="72" lengthAdjust="spacingAndGlyphs">图例：</text>
<rect x="4073" y="2832" width="1162" height="323" fill="none" stroke="#000" stroke-width="4"/>
<g stroke="#000" stroke-width="3"><line x1="4073" y1="2912" x2="5235" y2="2912"/><line x1="4073" y1="2993" x2="5235" y2="2993"/><line x1="4073" y1="3074" x2="5235" y2="3074"/><line x1="4666" y1="2832" x2="4666" y2="3155"/></g>
<g fill="#fff" stroke="#000" stroke-width="3">
<rect x="4146" y="2847" width="103" height="51"/><rect x="4146" y="2928" width="103" height="51"/><rect x="4146" y="3009" width="103" height="51"/><rect x="4146" y="3090" width="103" height="51"/>
<rect x="4726" y="2847" width="103" height="51"/><rect x="4726" y="2928" width="103" height="51"/><rect x="4726" y="3009" width="103" height="51"/><rect x="4726" y="3090" width="103" height="51"/>
</g>
<g stroke-width="3">
<line x1="4156" y1="2873" x2="4236" y2="2873" stroke="#ff5533"/><line x1="4156" y1="2954" x2="4236" y2="2954" stroke="#ffbb00"/>
<line x1="4156" y1="3035" x2="4236" y2="3035" stroke="#ccff33"/><line x1="4156" y1="3116" x2="4236" y2="3116" stroke="#55ff00"/>
<line x1="4736" y1="2873" x2="4816" y2="2873" stroke="#00ff44"/><line x1="4736" y1="2954" x2="4816" y2="2954" stroke="#00ffcc"/>
<line x1="4736" y1="3035" x2="4816" y2="3035" stroke="#00bbff"/><line x1="4736" y1="3116" x2="4816" y2="3116" stroke="#0044ff"/>
</g>
<g class="sf" font-size="46" fill="#000">
<text x="4314" y="2890" textLength="319" lengthAdjust="spacingAndGlyphs">1小时等照时线</text>
<text x="4314" y="2971" textLength="319" lengthAdjust="spacingAndGlyphs">2小时等照时线</text>
<text x="4314" y="3052" textLength="319" lengthAdjust="spacingAndGlyphs">3小时等照时线</text>
<text x="4314" y="3133" textLength="319" lengthAdjust="spacingAndGlyphs">4小时等照时线</text>
<text x="4894" y="2890" textLength="319" lengthAdjust="spacingAndGlyphs">5小时等照时线</text>
<text x="4894" y="2971" textLength="319" lengthAdjust="spacingAndGlyphs">6小时等照时线</text>
<text x="4894" y="3052" textLength="319" lengthAdjust="spacingAndGlyphs">7小时等照时线</text>
<text x="4894" y="3133" textLength="319" lengthAdjust="spacingAndGlyphs">8小时等照时线</text>
</g>

<g class="ln">
<line x1="5800" y1="624" x2="6208" y2="624"/><line x1="5800" y1="1033" x2="6208" y2="1033"/>
<line x1="5800" y1="1236" x2="6208" y2="1236"/><line x1="5800" y1="1347" x2="6208" y2="1347"/>
<line x1="5800" y1="1397" x2="6208" y2="1397"/><line x1="5800" y1="1454" x2="6208" y2="1454"/>
<line x1="5800" y1="1514" x2="6208" y2="1514"/><line x1="5800" y1="1573" x2="6208" y2="1573"/>
<line x1="5800" y1="1632" x2="6208" y2="1632"/><line x1="5800" y1="1693" x2="6208" y2="1693"/>
<line x1="5800" y1="1751" x2="6208" y2="1751"/><line x1="5800" y1="1809" x2="6208" y2="1809"/>
<line x1="5800" y1="1868" x2="6208" y2="1868"/>
<line x1="5800" y1="3174" x2="6208" y2="3174"/><line x1="5800" y1="3287" x2="6208" y2="3287"/>
<line x1="5800" y1="3334" x2="6208" y2="3334"/><line x1="5800" y1="3381" x2="6208" y2="3381"/>
<line x1="5800" y1="3429" x2="6208" y2="3429"/>
<line x1="6007" y1="3287" x2="6007" y2="3381"/>
</g>
<line x1="5977" y1="1397" x2="5977" y2="1868" stroke="#000" stroke-width="5"/>
<line x1="6095" y1="1397" x2="6095" y2="1868" stroke="#000" stroke-width="5"/>
<polygon points="5918,292 6073,242 6073,424 5918,424" fill="#000"/>
<g fill="#fff"><polygon points="5930,302 5962,294 5962,414 5930,414"/><polygon points="5978,290 6010,281 6010,414 5978,414"/><polygon points="6026,275 6058,265 6058,414 6026,414"/></g>
<text x="5917" y="472" font-family="'Liberation Sans',sans-serif" font-weight="bold" font-size="58" textLength="170" lengthAdjust="spacingAndGlyphs" fill="#000">SUAD</text>
<g class="tb">
<text x="5816" y="127" font-size="20" textLength="135" lengthAdjust="spacingAndGlyphs">建筑设计单位：</text>
<text x="5816" y="149" font-size="13" textLength="192" lengthAdjust="spacingAndGlyphs">ARCHITECTURE DESIGN UNIT</text>
<text x="5850" y="523" font-size="27" textLength="313" lengthAdjust="spacingAndGlyphs">上海都市建筑设计有限公司</text>
<text x="5860" y="547" font-size="12" textLength="297" lengthAdjust="spacingAndGlyphs">SHANGHAI URBAN ARCHITECTURAL DESIGN Co.,Ltd.</text>
<text x="5890" y="580" font-size="20" textLength="243" lengthAdjust="spacingAndGlyphs">设计证书甲级编号 A131002499</text>
<text x="5862" y="600" font-size="11" textLength="296" lengthAdjust="spacingAndGlyphs">No.A131002499 Class A of Architechture Design(PRC)</text>
<text x="5815" y="655" font-size="20" textLength="135" lengthAdjust="spacingAndGlyphs">合作设计单位：</text>
<text x="5815" y="675" font-size="13" textLength="168" lengthAdjust="spacingAndGlyphs">JOINTLY DESIGNED WITH</text>
<text x="5815" y="1067" font-size="20" textLength="92" lengthAdjust="spacingAndGlyphs">建设单位：</text>
<text x="5815" y="1085" font-size="13" textLength="48" lengthAdjust="spacingAndGlyphs">CLIENT</text>
<text x="5815" y="1258" font-size="20" textLength="92" lengthAdjust="spacingAndGlyphs">工程名称：</text>
<text x="5815" y="1275" font-size="13" textLength="96" lengthAdjust="spacingAndGlyphs">PROJECT NAME</text>
<text x="5815" y="1370" font-size="20" textLength="52" lengthAdjust="spacingAndGlyphs">子项：</text>
<text x="5815" y="1385" font-size="12" textLength="30" lengthAdjust="spacingAndGlyphs">ITEM</text>
<text x="6037" y="1418" font-size="19" text-anchor="middle">电子签名</text>
<text x="6037" y="1434" font-size="11" text-anchor="middle">E SIGNATURE</text>
<text x="6152" y="1418" font-size="19" text-anchor="middle">手签签名</text>
<text x="6152" y="1434" font-size="11" text-anchor="middle">M SIGNATURE</text>
<text x="5810" y="1476" font-size="19">审定</text><text x="5810" y="1494" font-size="11">APPROVED BY</text>
<text x="5810" y="1536" font-size="19">审核</text><text x="5810" y="1553" font-size="11">AUDITED BY</text>
<text x="5810" y="1595" font-size="19">项目负责</text><text x="5810" y="1612" font-size="11">PROJECT DIRECTOR</text>
<text x="5810" y="1654" font-size="19">专业负责</text><text x="5805" y="1672" font-size="10" textLength="168" lengthAdjust="spacingAndGlyphs">DISCIPLINE RESPONSIBLE BY</text>
<text x="5810" y="1715" font-size="19">校对</text><text x="5810" y="1732" font-size="11">CHECKED BY</text>
<text x="5810" y="1773" font-size="19">设计</text><text x="5810" y="1790" font-size="11">DESIGNED BY</text>
<text x="5810" y="1831" font-size="19">制图</text><text x="5810" y="1848" font-size="11">DRAWN BY</text>
<text x="5810" y="1892" font-size="19">备注：</text>
<text x="5817" y="3199" font-size="20">图名：</text>
<text x="5819" y="3218" font-size="13">DRAWING TITLE</text>
<text x="5809" y="3309" font-size="19">设计号：</text><text x="5809" y="3327" font-size="12">PROJECT No.</text>
<text x="6017" y="3309" font-size="19">日期：</text><text x="6017" y="3327" font-size="12">DATE</text>
<text x="5809" y="3354" font-size="19">合同号：</text><text x="5809" y="3373" font-size="12">CONTRACT No.</text>
<text x="6017" y="3354" font-size="19">图号：</text><text x="6017" y="3372" font-size="12">DRAWING NO.</text>
<text x="5809" y="3400" font-size="18">专业：</text><text x="5809" y="3418" font-size="11">DISCIPLINE</text>
<text x="5986" y="3446" font-size="14" text-anchor="middle">本图须加盖出图章 否则 一律无效</text>
<text x="5986" y="3462" font-size="11" text-anchor="middle">Invalid Unless Stamped</text>
</g>
<g class="sf" fill="#000">
<text x="5865" y="1151" font-size="24" textLength="298" lengthAdjust="spacingAndGlyphs">河南正商中岳置业有限公司</text>
<text x="5910" y="1314" font-size="24" textLength="212" lengthAdjust="spacingAndGlyphs">正商嵩岳上境1号院</text>
<text x="5982" y="1375" font-size="24" textLength="98" lengthAdjust="spacingAndGlyphs">总平面图</text>
<text x="6037" y="1493" font-size="24" text-anchor="middle">范仲汉</text>
<text x="6037" y="1552" font-size="24" text-anchor="middle">张伟</text>
<text x="6037" y="1611" font-size="24" text-anchor="middle">张伟</text>
<text x="6037" y="1671" font-size="24" text-anchor="middle">汪勤</text>
<text x="6037" y="1731" font-size="24" text-anchor="middle">汪勤</text>
<text x="6037" y="1789" font-size="24" text-anchor="middle">郝文利</text>
<text x="6037" y="1848" font-size="24" text-anchor="middle">郝文利</text>
<text x="6152" y="1492" font-size="26" font-style="italic" text-anchor="middle">范仲汉</text>
<text x="6152" y="1552" font-size="28" font-style="italic" font-weight="bold" text-anchor="middle">张伟</text>
<text x="6152" y="1611" font-size="28" font-style="italic" font-weight="bold" text-anchor="middle">张伟</text>
<text x="6152" y="1672" font-size="28" font-style="italic" text-anchor="middle">汪勤</text>
<text x="6152" y="1731" font-size="28" font-style="italic" text-anchor="middle">汪勤</text>
<text x="6152" y="1792" font-size="34" font-weight="bold" font-style="italic" text-anchor="middle">郝文利</text>
<text x="6152" y="1851" font-size="34" font-weight="bold" font-style="italic" text-anchor="middle">郝文利</text>
<text x="5813" y="3258" font-size="26" textLength="392" lengthAdjust="spacingAndGlyphs">日照分析平面图（养老及集中绿地）</text>
<text x="6107" y="3321" font-size="28" textLength="86" lengthAdjust="spacingAndGlyphs">2021.08</text>
<text x="6130" y="3360" font-size="28">05</text>
<text x="5930" y="3409" font-size="22">方案</text>
</g>
</svg>
</body></html>
